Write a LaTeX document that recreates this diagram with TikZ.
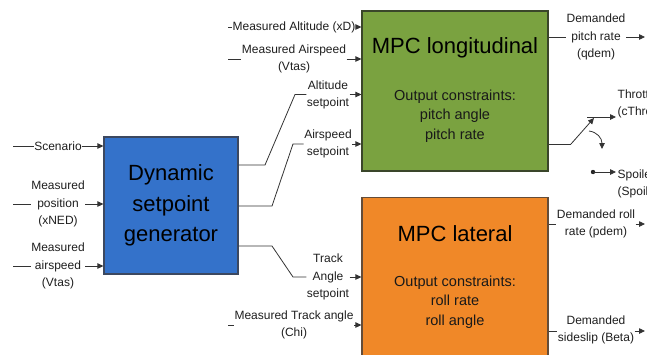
\documentclass[tikz,border=0pt]{standalone}
\usepackage{fontspec}
\setmainfont{Liberation Sans}
\usetikzlibrary{arrows.meta}
\definecolor{genfill}{RGB}{52,114,202}
\definecolor{genline}{RGB}{60,72,96}
\definecolor{lonfill}{RGB}{122,162,64}
\definecolor{lonline}{RGB}{58,70,42}
\definecolor{latfill}{RGB}{240,136,40}
\definecolor{latline}{RGB}{100,76,56}
\definecolor{ink}{RGB}{30,30,30}
\begin{document}
\begin{tikzpicture}[x=1pt,y=-1pt,
  lbl/.style={font=\fontsize{12}{17.2}\selectfont, align=center, inner sep=0.5pt, text=ink},
  lbll/.style={lbl, align=left, anchor=west},
  blocktitle/.style={font=\fontsize{22}{30.5}\selectfont, align=center, inner sep=0pt, text=black},
  blocknote/.style={font=\fontsize{14.5}{19.6}\selectfont, align=center, inner sep=0pt, text=black!90},
  block/.style={line width=1.2pt, inner sep=0pt},
  wire/.style={draw=black!80, line width=0.8pt},
  arr/.style={wire, -{Triangle[length=6pt,width=5.5pt]}}]
\useasboundingbox (0,0) rectangle (647,354);
\clip (0,0) rectangle (647,354);

% ---- blocks ----
\node[block, fill=genfill, draw=genline, minimum width=134pt, minimum height=137pt,
      blocktitle] (dsg) at (171,205.5) {Dynamic\\setpoint\\generator};
\node[block, fill=lonfill, draw=lonline, minimum width=186pt, minimum height=160pt] (lon) at (455,91) {};
\node[block, fill=latfill, draw=latline, minimum width=186pt, minimum height=180pt, anchor=north] (lat) at (455,197) {};

\node[blocktitle] (lontitle) at (455,48) {MPC longitudinal};
\node[blocknote] (lonnote) at (455,116) {Output constraints:\\pitch angle\\pitch rate};
\node[blocktitle] (lattitle) at (455,234) {MPC lateral};
\node[blocknote] (latnote) at (455,302) {Output constraints:\\roll rate\\roll angle};

% ---- inputs of the setpoint generator ----
\node[lbl] (scen) at (58,146) {Scenario};
\node[lbl] (mpos) at (58,204) {Measured\\position\\(xNED)};
\node[lbl] (mspd) at (58,266) {Measured\\airspeed\\(Vtas)};
\coordinate (scenin) at (13,146);
\coordinate (mposin) at (13,204);
\coordinate (mspdin) at (13,266);
\draw[wire] (scenin) -- (scen.west);
\draw[arr] (scen.east) -- (dsg.west |- scen);
\draw[wire] (mposin) -- (mpos.west);
\draw[arr] (mpos.east) -- (dsg.west |- mpos);
\draw[wire] (mspdin) -- (mspd.west);
\draw[arr] (mspd.east) -- (dsg.west |- mspd);

% ---- measured inputs of the MPC blocks ----
\node[lbl] (malt) at (294,27) {Measured Altitude (xD)};
\node[lbl] (mas) at (294,58.5) {Measured Airspeed\\(Vtas)};
\node[lbl] (mchi) at (294,325) {Measured Track angle\\(Chi)};
\coordinate (maltin) at (228,27);
\coordinate (masin) at (228,59);
\coordinate (mchiin) at (228,325);
\draw[wire] (maltin) -- (malt.west);
\draw[arr] (malt.east) -- (lon.west |- malt);
\draw[wire] (masin) -- (mas.west |- masin);
\draw[arr] (mas.east |- masin) -- (lon.west |- masin);
\draw[wire] (mchiin) -- (mchi.west |- mchiin);
\draw[arr] (mchi.east |- mchiin) -- (lat.west |- mchiin);

% ---- setpoints ----
\node[lbl] (altsp) at (328,94.5) {Altitude\\setpoint};
\node[lbl] (spdsp) at (328,144) {Airspeed\\setpoint};
\node[lbl] (trksp) at (328,277) {Track\\Angle\\setpoint};
\draw[wire] (dsg.east |- 0,165) -- (265,165) -- (295,94.5) -- (altsp.west);
\draw[arr] (altsp.east) -- (lon.west |- altsp);
\draw[wire] (dsg.east |- 0,206) -- (272,206) -- (293,144) -- (spdsp.west);
\draw[arr] (spdsp.east) -- (lon.west |- spdsp);
\draw[wire] (dsg.east |- 0,246) -- (272,246) -- (293,277) -- (trksp.west);
\draw[arr] (trksp.east) -- (lat.west |- trksp);

% ---- longitudinal outputs ----
\node[lbl] (qdem) at (596,37) {Demanded\\pitch rate\\(qdem)};
\coordinate (qdemout) at (645,37);
\draw[wire] (lon.east |- qdem) -- (qdem.west);
\draw[arr] (qdem.east) -- (qdemout);

% throttle / spoiler switch
\coordinate (swin) at (571,144);
\coordinate (swtip) at (594,118);
\coordinate (thrfrom) at (587,117);
\coordinate (thrto) at (616,117);
\coordinate (swfrom) at (589,131);
\coordinate (swto) at (602,149);
\coordinate (spdot) at (593,172);
\coordinate (spto) at (616,172);
\draw[wire] (lon.east |- swin) -- (swin);
\draw[arr] (swin) -- (swtip);
\draw[arr] (thrfrom) -- (thrto);
\draw[arr] (swfrom) .. controls (597,132) and (602,138) .. (swto);
\fill[black!85] (spdot) circle (2.2pt);
\draw[arr] (spdot) -- (spto);
\node[lbll] (thr) at (617,103.5) {Throttle\\(cThrottle)};
\node[lbll] (spl) at (617,184) {Spoiler\\(Spoiler)};

% ---- lateral outputs ----
\node[lbl] (pdem) at (596,223.5) {Demanded roll\\rate (pdem)};
\node[lbl] (beta) at (596,330) {Demanded\\sideslip (Beta)};
\coordinate (pdemout) at (645,224);
\coordinate (betaout) at (645,331);
\draw[wire] (lat.east |- pdemout) -- (pdem.west |- pdemout);
\draw[arr] (pdem.east |- pdemout) -- (pdemout);
\draw[wire] (lat.east |- betaout) -- (beta.west |- betaout);
\draw[arr] (beta.east |- betaout) -- (betaout);
\end{tikzpicture}
\end{document}
